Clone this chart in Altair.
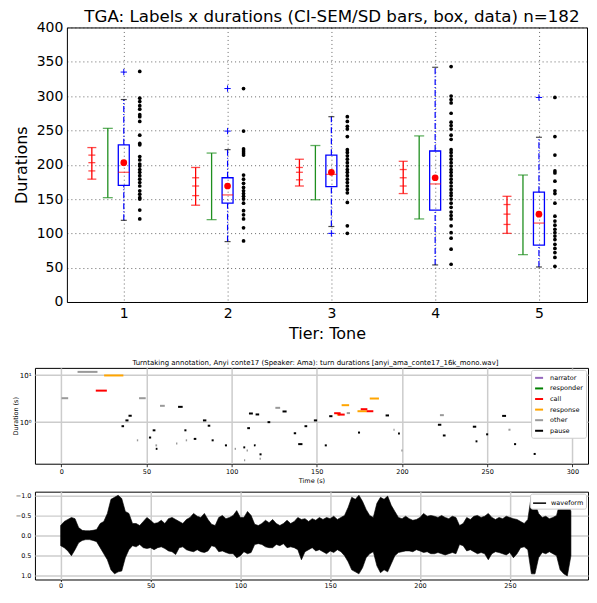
import altair as alt
import pandas as pd

FONT = "DejaVu Sans"

# ---------------- top panel: per-tier statistics ----------------
tiers = [1, 2, 3, 4, 5]
ci_lo = [179, 141, 169, 158, 100]
ci_hi = [225, 196, 208, 205, 154]
sem_lo = [191, 155, 178, 169, 113]
sem_hi = [214, 181, 196, 193, 142]
means = [203, 169, 189, 181, 128]
sd_lo = [152, 120, 149, 121, 69]
sd_hi = [253, 217, 228, 242, 185]
q1 = [170, 144, 168, 134, 83]
q3 = [229, 181, 214, 220, 160]
medians = [189, 156, 186, 172, 115]
whisk_lo = [119, 88, 110, 54, 51]
whisk_hi = [295, 222, 270, 342, 240]
y_ticks = [0, 50, 100, 150, 200, 250, 300, 350, 400]

outliers = {1: [335], 2: [249, 311], 3: [100], 4: [], 5: [298]}

data_points = {
    1: [336, 297, 292, 286, 281, 273, 270, 263, 243, 231, 229, 212, 207, 201, 198,
        193, 189, 184, 179, 174, 169, 162, 157, 152, 150, 134, 121],
    2: [311, 249, 223, 220, 217, 214, 185, 179, 173, 167, 162, 158, 154, 150, 144,
        133, 127, 121, 108, 89],
    3: [270, 263, 256, 252, 241, 222, 218, 213, 208, 203, 198, 193, 189, 184, 179,
        174, 169, 164, 159, 145, 111, 100],
    4: [343, 300, 295, 290, 275, 262, 257, 252, 243, 237, 222, 218, 213, 208, 203,
        198, 193, 189, 184, 179, 174, 169, 164, 159, 155, 150, 144, 138, 131, 126,
        121, 111, 101, 93, 77, 55],
    5: [298, 241, 214, 191, 188, 176, 162, 158, 144, 125, 118, 112, 106, 101, 96,
        91, 84, 78, 72, 65, 52],
}

# ---------------- middle panel: turn segments ----------------
seg_t0 = [9.6, 0.2, 45.7, 58.0, 44.4, 55.3, 67.4, 73.1, 101.8, 108.8, 107.3, 116.4,
          125.7, 167.6, 195.0, 199.6, 222.3, 262.5, 277.3,
          39.5, 37.7, 35.4, 68.6, 83.2, 86.0, 53.7, 51.5, 55.5, 72.3, 77.8, 88.3,
          96.1, 106.9, 113.1, 109.2, 110.2, 114.1, 116.4, 121.1, 129.9, 136.5, 142.8,
          139.1, 148.3, 157.3, 190.4, 174.2, 154.7, 197.7, 221.1, 224.0, 241.6,
          243.2, 249.4, 258.8, 265.8, 277.3,
          25.2, 164.6, 173.9, 181.1, 161.8,
          20.3, 160.2, 162.5, 175.8, 179.3]
seg_t1 = [21.3, 4.1, 49.6, 60.8, 45.2, 56.3, 68.2, 73.9, 102.6, 109.6, 108.0, 117.2,
          128.5, 169.5, 195.7, 200.4, 224.6, 263.7, 285.1,
          41.4, 39.5, 36.9, 71.3, 85.2, 87.5, 55.3, 52.8, 56.5, 73.5, 79.3, 89.5,
          97.3, 108.0, 114.1, 110.8, 112.5, 116.2, 117.6, 122.7, 132.3, 137.9, 144.4,
          141.6, 150.2, 159.2, 192.4, 175.4, 155.9, 198.8, 223.1, 225.6, 243.6,
          244.3, 250.6, 261.1, 267.0, 278.5,
          36.5, 169.0, 179.4, 186.5, 163.6,
          26.8, 164.0, 166.4, 179.7, 183.2]
seg_dur = [11.8, 3.24, 3.24, 2.23, 0.41, 0.32, 0.35, 0.41, 0.27, 0.25, 0.155, 0.166,
           2.02, 1.56, 0.69, 0.25, 1.41, 0.69, 7.45,
           1.37, 1.09, 0.82, 2.12, 1.09, 0.84, 0.67, 0.47, 0.27, 0.67, 0.44, 0.41,
           0.32, 0.29, 0.32, 0.745, 1.53, 1.46, 0.206, 1.0, 1.69, 0.58, 0.82,
           0.34, 1.09, 1.34, 1.39, 0.60, 0.32, 0.575, 0.88, 0.52, 0.80,
           0.39, 0.55, 1.36, 0.34, 0.21,
           9.9, 2.3, 1.71, 3.19, 1.45,
           4.7, 1.55, 1.45, 1.89, 1.71]
seg_kind = (["other"] * 19 + ["pause"] * 38 + ["response"] * 5 + ["call"] * 5)

labels_order = ["narrator", "responder", "call", "response", "other", "pause"]
label_colors = ["#9467bd", "#008000", "#ff0000", "#ffa500", "#999999", "#000000"]
label_widths = [2, 2, 4, 4, 2, 2]

# ---------------- bottom panel: waveform envelope ----------------
wave_t = list(range(0, 286, 2))
wave_top = [
    -0.25, -0.35, -0.40, -0.45, -0.42, -0.20, -0.13, -0.12, -0.12, -0.13,
    -0.15, -0.30, -0.35, -0.55, -0.90, -0.95, -1.00, -0.92, -0.60, -0.55,
    -0.30, -0.30, -0.25, -0.35, -0.45, -0.38, -0.30, -0.32, -0.38, -0.30,
    -0.42, -0.45, -0.40, -0.35, -0.30, -0.40, -0.45, -0.55, -0.48, -0.45,
    -0.55, -0.40, -0.28, -0.25, -0.45, -0.50, -0.42, -0.45, -0.50, -0.62,
    -0.45, -0.45, -0.60, -0.50, -0.28, -0.25, -0.30, -0.38, -0.32, -0.40,
    -0.30, -0.25, -0.30, -0.38, -0.30, -0.35, -0.45, -0.40, -0.42, -0.35,
    -0.42, -0.38, -0.45, -0.40, -0.45, -0.42, -0.48, -0.40, -0.45, -0.50,
    -0.70, -0.95, -0.90, -1.00, -0.85, -0.65, -0.50, -0.45, -0.80, -0.95,
    -0.90, -0.98, -0.75, -0.60, -0.45, -0.42, -0.48, -0.42, -0.38, -0.40,
    -0.45, -0.55, -0.48, -0.50, -0.48, -0.45, -0.50, -0.45, -0.42, -0.48,
    -0.45, -0.25, -0.30, -0.45, -0.40, -0.48, -0.50, -0.45, -0.48, -0.55,
    -0.45, -0.40, -0.45, -0.42, -0.48, -0.45, -0.42, -0.40, -0.35, -0.30,
    -0.40, -1.00, -0.80, -0.55, -0.45, -0.48, -0.42, -0.45, -0.50, -0.85,
    -0.95, -0.90, -0.60]
wave_bot = [
    0.25, 0.30, 0.38, 0.50, 0.35, 0.18, 0.12, 0.10, 0.10, 0.12,
    0.15, 0.30, 0.45, 0.60, 0.85, 0.95, 0.90, 0.88, 0.55, 0.35,
    0.25, 0.28, 0.22, 0.30, 0.32, 0.30, 0.35, 0.30, 0.28, 0.32,
    0.38, 0.40, 0.47, 0.30, 0.28, 0.35, 0.38, 0.40, 0.35, 0.40,
    0.42, 0.38, 0.25, 0.28, 0.40, 0.38, 0.42, 0.45, 0.45, 0.55,
    0.50, 0.40, 0.45, 0.42, 0.22, 0.20, 0.22, 0.28, 0.30, 0.30,
    0.22, 0.25, 0.20, 0.30, 0.28, 0.30, 0.35, 0.60, 0.40, 0.35,
    0.30, 0.38, 0.35, 0.40, 0.45, 0.38, 0.42, 0.35, 0.40, 0.50,
    0.65, 0.85, 0.90, 0.95, 0.80, 0.55, 0.45, 0.40, 0.75, 0.92,
    0.85, 0.90, 0.70, 0.50, 0.42, 0.40, 0.38, 0.38, 0.40, 0.35,
    0.38, 0.42, 0.40, 0.45, 0.45, 0.42, 0.45, 0.48, 0.45, 0.42,
    0.45, 0.22, 0.25, 0.38, 0.35, 0.40, 0.45, 0.42, 0.45, 0.60,
    0.45, 0.40, 0.42, 0.45, 0.48, 0.42, 0.55, 0.45, 0.30, 0.28,
    0.35, 0.95, 0.95, 0.55, 0.42, 0.45, 0.40, 0.45, 0.50, 0.85,
    0.95, 1.00, 0.50]

# ================= TOP PANEL =================
stats = pd.DataFrame({
    "tier": tiers, "ci_lo": ci_lo, "ci_hi": ci_hi, "sem_lo": sem_lo, "sem_hi": sem_hi,
    "mean": means, "sd_lo": sd_lo, "sd_hi": sd_hi, "q1": q1, "q3": q3,
    "median": medians, "wlo": whisk_lo, "whi": whisk_hi,
})
dots_df = pd.DataFrame([(t, v) for t, vals in data_points.items() for v in vals],
                       columns=["tier", "v"])
out_df = pd.DataFrame([(t, v) for t, vals in outliers.items() for v in vals],
                      columns=["tier", "v"])
caps_red = stats.melt(id_vars="tier", value_vars=["ci_lo", "ci_hi"], value_name="v")
inner_red = stats.melt(id_vars="tier", value_vars=["sem_lo", "mean", "sem_hi"], value_name="v")
caps_green = stats.melt(id_vars="tier", value_vars=["sd_lo", "sd_hi"], value_name="v")
caps_whisk = stats.melt(id_vars="tier", value_vars=["wlo", "whi"], value_name="v")

# the visible plot frame begins 32px right of the panel origin (page x 66 vs 34)
xs_top = alt.Scale(domain=[0.5, 5.415], range=[32, 553], nice=False, zero=False)
ys_top = alt.Scale(domain=[0, 400], nice=False, zero=False)
x_axis_top = alt.Axis(values=tiers, format="d", title="Tier: Tone", grid=True,
                      gridColor="black", gridDash=[1, 3], gridOpacity=0.75, gridWidth=0.8,
                      domain=True, domainColor="black", domainWidth=1,
                      ticks=False, labelFontSize=14, labelPadding=5,
                      titleFontSize=16, titlePadding=5, titleFontWeight="normal",
                      labelFont=FONT, titleFont=FONT, labelColor="black", titleColor="black")
y_axis_top = alt.Axis(values=y_ticks, title="Durations", grid=True, offset=-32,
                      gridColor="black", gridDash=[1, 3], gridOpacity=0.75, gridWidth=0.8,
                      domain=True, domainColor="black", domainWidth=1,
                      ticks=False, labelFontSize=14, labelPadding=4,
                      titleFontSize=16, titlePadding=7, titleFontWeight="normal",
                      labelFont=FONT, titleFont=FONT, labelColor="black", titleColor="black")
x_axis_frame = alt.Axis(orient="top", labels=False, ticks=False, grid=False, domain=True,
                        domainColor="black", domainWidth=1, title=None,
                        minExtent=0, maxExtent=0)
y_axis_frame = alt.Axis(orient="right", labels=False, ticks=False, grid=False, domain=True,
                        domainColor="black", domainWidth=1, title=None,
                        minExtent=0, maxExtent=0)


def X(field="tier", axis=None):
    return alt.X(f"{field}:Q", scale=xs_top, axis=axis)


def Y(field, axis=None):
    return alt.Y(f"{field}:Q", scale=ys_top, axis=axis)


base_stats = alt.Chart(stats)
red_rule = base_stats.mark_rule(color="red", strokeWidth=1.3, xOffset=-32).encode(
    x=X(axis=x_axis_top), y=Y("ci_lo", axis=y_axis_top), y2="ci_hi")
frame = base_stats.mark_point(opacity=0).encode(
    x=X(axis=x_axis_frame), y=Y("mean", axis=y_axis_frame))
red_caps = alt.Chart(caps_red).mark_tick(orient="horizontal", color="red", size=9,
                                         thickness=1.3, xOffset=-32).encode(x=X(), y=Y("v"))
red_inner = alt.Chart(inner_red).mark_tick(orient="horizontal", color="red", size=7,
                                           thickness=1.3, xOffset=-32).encode(x=X(), y=Y("v"))
green_rule = base_stats.mark_rule(color="#1f8f1f", strokeWidth=1.3, xOffset=-16).encode(
    x=X(), y=Y("sd_lo"), y2="sd_hi")
green_caps = alt.Chart(caps_green).mark_tick(orient="horizontal", color="#1f8f1f", size=10,
                                             thickness=1.3, xOffset=-16).encode(x=X(), y=Y("v"))
whisk_up = base_stats.mark_rule(color="blue", strokeWidth=1.2, strokeDash=[6, 2, 1, 2]).encode(
    x=X(), y=Y("q3"), y2="whi")
whisk_dn = base_stats.mark_rule(color="blue", strokeWidth=1.2, strokeDash=[6, 2, 1, 2]).encode(
    x=X(), y=Y("wlo"), y2="q1")
whisk_caps = alt.Chart(caps_whisk).mark_tick(orient="horizontal", color="black", size=6,
                                             thickness=1.2).encode(x=X(), y=Y("v"))
box = base_stats.mark_bar(filled=False, stroke="blue", fillOpacity=0, strokeWidth=1.3,
                          size=11).encode(x=X(), y=Y("q1"), y2="q3")
median_tick = base_stats.mark_tick(orient="horizontal", color="red", size=11,
                                   thickness=1.2).encode(x=X(), y=Y("median"))
mean_dot = base_stats.mark_point(filled=True, color="red", size=45, opacity=1).encode(
    x=X(), y=Y("mean"))
out_pts = alt.Chart(out_df).mark_point(shape="M-1,0L1,0M0,-1L0,1", filled=False,
                                       color="blue", size=40, strokeWidth=1, opacity=1).encode(
    x=X(), y=Y("v"))
data_dots = alt.Chart(dots_df).mark_point(filled=True, color="black", size=14, opacity=1,
                                          xOffset=16).encode(x=X(), y=Y("v"))

top = alt.layer(red_rule, frame, red_caps, red_inner, green_rule, green_caps, whisk_up,
                whisk_dn, whisk_caps, box, median_tick, mean_dot, out_pts, data_dots
                ).resolve_axis(x="independent", y="independent").properties(
    width=553, height=275,
    view=alt.ViewBackground(stroke="transparent"),
    title=alt.TitleParams("TGA: Labels x durations (CI-SEM/SD bars, box, data) n=182",
                          fontSize=16.7, font=FONT, fontWeight="normal", anchor="middle",
                          dx=21, offset=-5, color="black"))

# ================= MIDDLE PANEL =================
seg_df = pd.DataFrame({"t0": seg_t0, "t1": seg_t1, "dur": seg_dur, "kind": seg_kind})

mid = alt.Chart(seg_df).mark_rule(strokeCap="butt").encode(
    x=alt.X("t0:Q", scale=alt.Scale(domain=[-15.4, 309.2], nice=False, zero=False),
            axis=alt.Axis(values=[0, 50, 100, 150, 200, 250, 300], title="Time (s)",
                          grid=True, gridColor="#cccccc", gridWidth=1.5, domain=False,
                          tickSize=3, tickColor="black", tickWidth=0.8,
                          labelFontSize=6.5, titleFontSize=6.5, labelPadding=2, titlePadding=2,
                          titleFontWeight="normal", labelFont=FONT, titleFont=FONT,
                          labelColor="black", titleColor="black")),
    x2="t1:Q",
    y=alt.Y("dur:Q", scale=alt.Scale(type="log", domain=[0.13, 14.36], nice=False),
            axis=alt.Axis(values=[1, 10],
                          labelExpr="datum.value == 10 ? '10¹' : '10⁰'",
                          title="Duration (s)", grid=True, gridColor="#cccccc", gridWidth=1.5,
                          domain=False, ticks=False, labelFontSize=7, titleFontSize=6.5,
                          labelPadding=4, titlePadding=1, titleFontWeight="normal",
                          labelFont=FONT, titleFont=FONT, labelColor="black",
                          titleColor="black")),
    color=alt.Color("kind:N", scale=alt.Scale(domain=labels_order, range=label_colors),
                    legend=alt.Legend(title=None, orient="top-right", symbolType="stroke",
                                      symbolStrokeWidth=2, symbolSize=64, labelFontSize=6.5,
                                      labelFont=FONT, labelColor="black", rowPadding=1.6,
                                      padding=3, offset=2, fillColor="white",
                                      strokeColor="#cccccc", cornerRadius=2,
                                      labelOffset=6)),
    strokeWidth=alt.StrokeWidth("kind:N",
                                scale=alt.Scale(domain=labels_order, range=label_widths),
                                legend=None),
).properties(
    width=554, height=96,
    title=alt.TitleParams("Turntaking annotation, Anyi conte17 (Speaker: Ama): turn durations "
                          "[anyi_ama_conte17_16k_mono.wav]",
                          fontSize=7, font=FONT, fontWeight="normal", anchor="middle",
                          dx=4, offset=2, color="black"))

# ================= BOTTOM PANEL =================
wave_df = pd.DataFrame({"t": wave_t, "lo": wave_top, "hi": wave_bot})
wave_df["series"] = "waveform"

bot = alt.Chart(wave_df).mark_area(interpolate="linear", stroke="black", strokeWidth=0.6).encode(
    x=alt.X("t:Q", scale=alt.Scale(domain=[-14.3, 293.5], nice=False, zero=False),
            axis=alt.Axis(values=[0, 50, 100, 150, 200, 250], title="Time (s)",
                          grid=True, gridColor="#cccccc", gridWidth=1.5, domain=False,
                          tickSize=2, tickColor="black", tickWidth=0.8,
                          labelFontSize=6.5, titleFontSize=6.5, labelPadding=1, titlePadding=1,
                          titleFontWeight="normal", labelFont=FONT, titleFont=FONT,
                          labelColor="black", titleColor="black")),
    y=alt.Y("lo:Q", scale=alt.Scale(domain=[-1.09, 1.09], reverse=True, nice=False, zero=False),
            axis=alt.Axis(values=[-1.0, -0.5, 0.0, 0.5, 1.0], format=".1f", title=None,
                          grid=True, gridColor="#cccccc", gridWidth=1.5, domain=False,
                          ticks=False, labelFontSize=6.5, labelPadding=4, labelFont=FONT,
                          labelColor="black")),
    y2="hi:Q",
    color=alt.Color("series:N", scale=alt.Scale(domain=["waveform"], range=["black"]),
                    legend=alt.Legend(title=None, orient="top-right", symbolType="stroke",
                                      symbolStrokeColor="black", symbolStrokeWidth=1.5,
                                      symbolSize=169, labelFontSize=6.5, labelFont=FONT,
                                      labelColor="black", padding=2, offset=2,
                                      fillColor="white", strokeColor="#cccccc",
                                      cornerRadius=2, labelOffset=4)),
).properties(width=554, height=88)

lower = alt.vconcat(mid, bot, spacing=6).resolve_scale(
    color="independent", strokeWidth="independent").resolve_legend(
    color="independent", strokeWidth="independent")

chart = alt.vconcat(top, lower, spacing=15).resolve_scale(
    color="independent", strokeWidth="independent").resolve_legend(
    color="independent", strokeWidth="independent").configure(
    padding={"left": 3, "top": -1, "right": 0, "bottom": -10},
    font=FONT,
).configure_view(stroke="black", strokeWidth=1)

chart.save("out.html", embed_options={"renderer": "svg", "actions": False})
